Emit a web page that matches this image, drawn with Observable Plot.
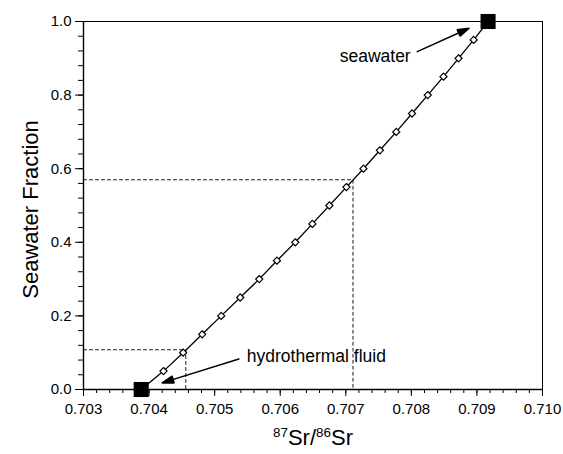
<!DOCTYPE html>
<html><head><meta charset="utf-8">
<script src="https://cdn.jsdelivr.net/npm/d3@7"></script>
<script src="https://cdn.jsdelivr.net/npm/@observablehq/plot@0.6"></script>
<style>body{margin:0;background:#fff}</style>
</head><body><div id="chart"></div>
<script>
// Mixing curve: seawater fraction vs 87Sr/86Sr
const fraction = [0, 0.05, 0.10, 0.15, 0.20, 0.25, 0.30, 0.35, 0.40, 0.45, 0.50, 0.55, 0.60, 0.65, 0.70, 0.75, 0.80, 0.85, 0.90, 0.95, 1.00];
const srRatio  = [0.70388, 0.70422, 0.70452, 0.70481, 0.70510, 0.70539, 0.70568, 0.70595, 0.70623, 0.70649, 0.70675, 0.70701, 0.70727, 0.70752, 0.70777, 0.70801, 0.70825, 0.70849, 0.70872, 0.70895, 0.70917];

// Dashed guide lines (read-offs)
const guideSr = [0.70456, 0.70711];
const guideF  = [0.108, 0.57];

// Tick values
const xTicks = [0.703, 0.704, 0.705, 0.706, 0.707, 0.708, 0.709, 0.710];
const yTicks = [0.0, 0.2, 0.4, 0.6, 0.8, 1.0];
const xMinorTicks = d3.range(0, 36).map(i => 0.703 + i * 0.0002);
const yMinorTicks = d3.range(0, 26).map(i => i * 0.04);

// Annotations
const noteText = ["seawater", "hydrothermal fluid"];
const noteSr   = [0.70799, 0.70549];
const noteF    = [0.904, 0.091];
const arrowSr1 = [0.70809, 0.70537];
const arrowF1  = [0.918, 0.083];
const arrowSr2 = [0.70888, 0.70420];
const arrowF2  = [0.9815, 0.018];

const xTitle = "87Sr/86Sr";
const yTitle = "Seawater Fraction";

const rows = fraction.map((f, i) => ({f, sr: srRatio[i]}));
const inner = rows.slice(1, -1);
const ends = [rows[0], rows[rows.length - 1]];
const guides = guideSr.flatMap((s, i) => [
  {g: i, sr: xTicks[0], f: guideF[i]},
  {g: i, sr: s, f: guideF[i]},
  {g: i, sr: s, f: 0}
]);
const notes = noteText.map((t, i) => ({t, sr: noteSr[i], f: noteF[i]}));
const arrows = arrowSr1.map((s, i) => ({x1: s, y1: arrowF1[i], x2: arrowSr2[i], y2: arrowF2[i]}));

const font = "'Liberation Sans', Arial, Helvetica, sans-serif";

const chart = Plot.plot({
  width: 563,
  height: 454,
  marginLeft: 83,
  marginRight: 21,
  marginTop: 21,
  marginBottom: 65,
  x: {domain: [0.703, 0.710], label: null, axis: null},
  y: {domain: [0, 1], label: null, axis: null},
  style: {fontFamily: font, fontSize: "15px", background: "white", color: "black"},
  marks: [
    Plot.line(guides, {x: "sr", y: "f", z: "g", stroke: "black", strokeWidth: 0.9, strokeDasharray: "3,3"}),
    Plot.axisX(xMinorTicks, {tickSize: 4, tickFormat: () => "", label: null}),
    Plot.axisX(xTicks, {tickSize: 7, tickPadding: 7, tickFormat: d3.format(".3f"), label: null}),
    Plot.axisY(yMinorTicks, {tickSize: 5, tickFormat: () => "", label: null}),
    Plot.axisY(yTicks, {tickSize: 8, tickPadding: 4, tickFormat: d3.format(".1f"), label: null}),
    Plot.frame({stroke: "black", strokeWidth: 1}),
    Plot.ruleY([0], {strokeWidth: 1.6}),
    Plot.ruleX([0.703], {strokeWidth: 1.4}),
    Plot.line(rows, {x: "sr", y: "f", stroke: "black", strokeWidth: 1.3}),
    Plot.dot(inner, {x: "sr", y: "f", symbol: "diamond2", r: 3.2, fill: "white", stroke: "black", strokeWidth: 1.2}),
    Plot.dot(ends, {x: "sr", y: "f", symbol: "square", r: 8.5, fill: "black", stroke: "none"}),
    Plot.arrow(arrows, {x1: "x1", y1: "y1", x2: "x2", y2: "y2", stroke: "black", strokeWidth: 1.5, headLength: 12, headAngle: 35}),
    Plot.text(notes.slice(0, 1), {x: "sr", y: "f", text: "t", textAnchor: "end", fontSize: 17.5, fill: "black"}),
    Plot.text(notes.slice(1), {x: "sr", y: "f", text: "t", textAnchor: "start", fontSize: 17.5, fill: "black"}),
    Plot.text([xTitle], {frameAnchor: "bottom", dy: 55, textAnchor: "middle", fontSize: 22, fill: "black"}),
    Plot.text([yTitle], {frameAnchor: "left", textAnchor: "middle", rotate: -90, dx: -53, dy: 4, fontSize: 22, fill: "black"})
  ]
});

// Filled arrow heads
chart.querySelectorAll('g[aria-label="arrow"] path').forEach(p => {
  p.setAttribute("d", p.getAttribute("d") + "Z");
  p.setAttribute("fill", "black");
  p.setAttribute("stroke-linejoin", "miter");
});

// Superscripts in the x title
const ns = "http://www.w3.org/2000/svg";
Array.from(chart.querySelectorAll("text")).filter(t => t.textContent === xTitle).forEach(xt => {
  xt.textContent = "";
  const parts = [["87", true], ["Sr/", false], ["86", true], ["Sr", false]];
  parts.forEach(([s, sup]) => {
    const t = document.createElementNS(ns, "tspan");
    t.textContent = s;
    if (sup) { t.setAttribute("font-size", "13.5"); t.setAttribute("dy", "-8"); }
    else { t.setAttribute("dy", "8"); }
    xt.appendChild(t);
  });
});

document.getElementById("chart").appendChild(chart);
</script>
</body></html>
